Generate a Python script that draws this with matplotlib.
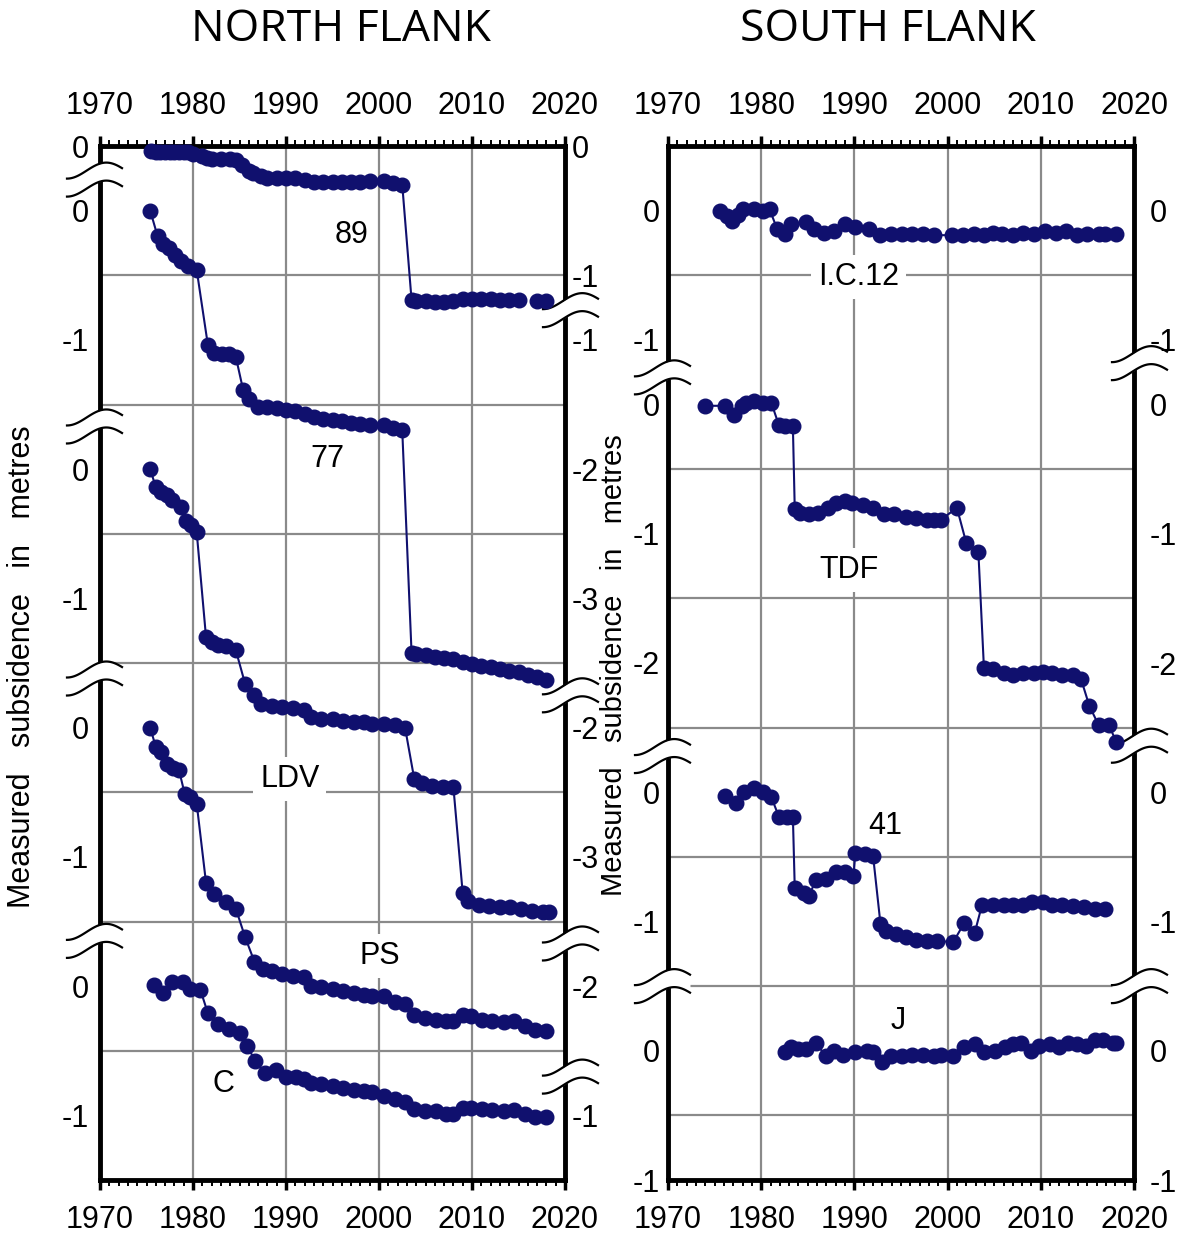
import numpy as np
import matplotlib.pyplot as plt

NAVY = '#10106e'
GRID = '#8a8a8a'
FIG_W, FIG_H, DPI = 11.77, 12.35, 100

# ---- north flank (local subsidence of each benchmark, metres) ----
yrs_89 = [1975.5, 1976, 1976.5, 1977, 1977.5, 1978, 1978.5, 1979, 1979.5, 1980, 1981, 1981.5,
          1982, 1983, 1984, 1984.6, 1985.3, 1986, 1986.5, 1987.3, 1988, 1989, 1990, 1991, 1992,
          1993, 1994, 1995, 1996, 1997, 1998, 1999, 2000.5, 2001.5, 2002.5, 2003.5, 2004, 2005,
          2006, 2007, 2008, 2009, 2010, 2011, 2012, 2013, 2014, 2015, 2016, 2017, 2018]
val_89 = [-0.04, -0.05, -0.05, -0.05, -0.05, -0.05, -0.05, -0.05, -0.05, -0.06, -0.08, -0.09,
          -0.10, -0.10, -0.10, -0.11, -0.15, -0.19, -0.21, -0.23, -0.25, -0.25, -0.25, -0.25, -0.26,
          -0.28, -0.28, -0.28, -0.28, -0.28, -0.28, -0.27, -0.27, -0.29, -0.30, -1.19, -1.20, -1.20,
          -1.21, -1.21, -1.20, -1.18, -1.18, -1.18, -1.18, -1.19, -1.19, -1.19, np.nan, -1.20, -1.20]

yrs_77 = [1975.4, 1976.2, 1976.8, 1977.4, 1978.1, 1978.7, 1979.5, 1980.4, 1981.6, 1982.3, 1983.1,
          1983.9, 1984.6, 1985.4, 1986, 1987, 1988, 1989, 1990, 1991, 1992, 1993, 1994, 1995, 1996,
          1997, 1998, 1999, 2000.5, 2001.5, 2002.5, 2003.5, 2004, 2005, 2006, 2007, 2008, 2009,
          2010, 2011, 2012, 2013, 2014, 2015, 2016, 2017, 2018]
val_77 = [0.0, -0.20, -0.26, -0.29, -0.34, -0.39, -0.43, -0.46, -1.04, -1.10, -1.11,
          -1.11, -1.13, -1.39, -1.46, -1.52, -1.52, -1.53, -1.54, -1.55, -1.57, -1.60, -1.61, -1.62,
          -1.63, -1.64, -1.65, -1.66, -1.66, -1.68, -1.70, -3.42, -3.43, -3.44, -3.45, -3.46, -3.47,
          -3.49, -3.51, -3.52, -3.53, -3.55, -3.56, -3.57, -3.59, -3.61, -3.63]

yrs_ldv = [1975.4, 1976.0, 1976.6, 1977.2, 1977.7, 1978.7, 1979.3, 1979.8, 1980.4, 1981.4, 1982.0,
           1982.7, 1983.5, 1984.6, 1985.6, 1986.6, 1987.3, 1988.5, 1989.6, 1990.8, 1991.9, 1992.7,
           1993.8, 1995.0, 1996.1, 1997.3, 1998.4, 1999.2, 2000.5, 2001.7, 2002.8, 2003.8, 2004.6,
           2005.7, 2006.9, 2008.0, 2009.0, 2009.6, 2010.7, 2011.8, 2013.0, 2014.1, 2015.3, 2016.4,
           2017.6, 2018.3]
val_ldv = [0.0, -0.14, -0.18, -0.20, -0.24, -0.29, -0.40, -0.43, -0.49, -1.30, -1.34,
           -1.36, -1.37, -1.40, -1.66, -1.75, -1.82, -1.83, -1.84, -1.85, -1.86, -1.92,
           -1.93, -1.93, -1.95, -1.96, -1.96, -1.97, -1.97, -1.98, -2.00, -2.40, -2.43,
           -2.45, -2.46, -2.46, -3.28, -3.34, -3.37, -3.38, -3.39, -3.39, -3.40, -3.42,
           -3.43, -3.43]

yrs_ps = [1975.4, 1976.0, 1976.6, 1977.2, 1977.9, 1978.5, 1979.1, 1979.7, 1980.4, 1981.4, 1982.3,
          1983.5, 1984.6, 1985.6, 1986.6, 1987.5, 1988.5, 1989.6, 1990.8, 1991.9, 1992.7, 1993.8,
          1995.0, 1996.1, 1997.3, 1998.4, 1999.2, 2000.5, 2001.7, 2002.8, 2003.8, 2004.9, 2006.1,
          2007.2, 2008.0, 2009.0, 2009.9, 2011.1, 2012.2, 2013.4, 2014.5, 2015.7, 2016.8, 2018.0]
val_ps = [0.0, -0.15, -0.19, -0.28, -0.31, -0.33, -0.51, -0.54, -0.59, -1.20, -1.29,
          -1.35, -1.40, -1.62, -1.81, -1.87, -1.88, -1.91, -1.92, -1.93, -2.00, -2.01,
          -2.02, -2.04, -2.05, -2.07, -2.08, -2.08, -2.12, -2.14, -2.22, -2.25, -2.26,
          -2.27, -2.27, -2.22, -2.23, -2.26, -2.27, -2.28, -2.27, -2.31, -2.34, -2.35]

yrs_c = [1975.8, 1976.8, 1977.7, 1978.9, 1979.7, 1980.8, 1981.6, 1982.7, 1983.9, 1985.0, 1985.8,
         1986.7, 1987.7, 1988.9, 1990.0, 1991.1, 1991.9, 1992.7, 1993.8, 1995.0, 1996.1, 1997.3,
         1998.4, 1999.2, 2000.5, 2001.7, 2002.8, 2003.8, 2004.9, 2006.1, 2007.2, 2008.0, 2009.0,
         2009.9, 2011.1, 2012.2, 2013.4, 2014.5, 2015.7, 2016.8, 2018.0]
val_c = [0.01, -0.05, 0.03, 0.03, -0.02, -0.03, -0.21, -0.29, -0.33, -0.36, -0.46,
         -0.58, -0.67, -0.65, -0.70, -0.70, -0.72, -0.75, -0.76, -0.77, -0.79, -0.80,
         -0.81, -0.82, -0.85, -0.87, -0.90, -0.95, -0.97, -0.97, -0.99, -0.99, -0.94,
         -0.94, -0.95, -0.96, -0.97, -0.96, -0.99, -1.01, -1.01]

# ---- south flank ----
yrs_ic12 = [1975.6, 1976.3, 1976.9, 1977.5, 1978.0, 1979.2, 1980.2, 1980.9, 1981.7, 1982.6, 1983.2,
            1984.8, 1985.7, 1986.7, 1987.8, 1989.0, 1990.1, 1991.6, 1992.8, 1993.9, 1995.1, 1996.2,
            1997.4, 1998.5, 2000.5, 2001.6, 2002.8, 2003.9, 2004.9, 2005.8, 2007.0, 2008.1, 2009.3,
            2010.4, 2011.6, 2012.7, 2013.9, 2015.0, 2016.2, 2016.9, 2018.1]
val_ic12 = [0.0, -0.04, -0.08, -0.03, 0.01, 0.01, 0.0, 0.01, -0.14, -0.18, -0.10,
            -0.09, -0.14, -0.17, -0.155, -0.10, -0.13, -0.14, -0.19, -0.18, -0.18, -0.18,
            -0.18, -0.19, -0.19, -0.19, -0.18, -0.19, -0.17, -0.18, -0.19, -0.17, -0.18,
            -0.155, -0.17, -0.155, -0.19, -0.18, -0.18, -0.18, -0.18]

yrs_tdf = [1974.0, 1976.1, 1977.1, 1977.9, 1978.4, 1979.2, 1980.2, 1981.1, 1981.9, 1982.6, 1983.4,
           1983.6, 1984.2, 1985.1, 1986.1, 1987.2, 1988.0, 1989.0, 1989.7, 1990.9, 1992.0, 1993.2,
           1994.3, 1995.5, 1996.6, 1997.8, 1998.5, 1999.3, 2001.0, 2002.0, 2003.3, 2003.9, 2004.9,
           2006.0, 2007.0, 2008.1, 2009.3, 2010.2, 2011.2, 2012.3, 2013.5, 2014.3, 2015.2, 2016.2,
           2017.3, 2018.1]
val_tdf = [-0.01, -0.01, -0.08, -0.01, 0.01, 0.03, 0.01, 0.01, -0.16, -0.17, -0.17,
           -0.81, -0.84, -0.85, -0.84, -0.80, -0.76, -0.75, -0.76, -0.78, -0.80, -0.85,
           -0.85, -0.87, -0.88, -0.89, -0.89, -0.89, -0.80, -1.07, -1.14, -2.04, -2.05,
           -2.08, -2.09, -2.08, -2.08, -2.07, -2.08, -2.09, -2.09, -2.12, -2.33, -2.48,
           -2.48, -2.61]

yrs_41 = [1976.1, 1977.3, 1978.2, 1979.2, 1980.2, 1981.1, 1981.9, 1982.8, 1983.4, 1983.6, 1984.6,
          1985.1, 1985.9, 1987.0, 1988.0, 1989.0, 1989.9, 1990.1, 1991.1, 1992.0, 1992.8, 1993.4,
          1994.5, 1995.5, 1996.6, 1997.8, 1998.9, 2000.6, 2001.8, 2002.9, 2003.7, 2004.9, 2006.0,
          2007.0, 2008.1, 2009.1, 2010.2, 2011.2, 2012.3, 2013.5, 2014.6, 2015.8, 2016.9]
val_41 = [-0.03, -0.08, 0.0, 0.03, 0.0, -0.04, -0.19, -0.19, -0.19, -0.74, -0.78,
          -0.80, -0.68, -0.67, -0.62, -0.62, -0.65, -0.47, -0.48, -0.49, -1.02, -1.07,
          -1.10, -1.12, -1.14, -1.15, -1.15, -1.16, -1.01, -1.09, -0.87, -0.87, -0.87,
          -0.87, -0.87, -0.85, -0.85, -0.87, -0.87, -0.88, -0.89, -0.90, -0.90]

yrs_j = [1982.5, 1983.2, 1984.0, 1984.8, 1985.9, 1986.9, 1987.8, 1988.8, 1990.1, 1991.3, 1992.0,
         1993.0, 1993.9, 1995.1, 1996.2, 1997.4, 1998.5, 1999.3, 2000.6, 2001.8, 2002.9, 2003.9,
         2005.1, 2006.2, 2007.0, 2007.9, 2008.9, 2009.8, 2011.0, 2012.0, 2012.9, 2013.9, 2014.8,
         2015.8, 2016.7, 2017.7, 2018.1]
val_j = [-0.01, 0.03, 0.01, 0.01, 0.06, -0.04, 0.0, -0.03, -0.01, 0.0, -0.01,
         -0.09, -0.04, -0.04, -0.03, -0.03, -0.04, -0.03, -0.04, 0.03, 0.05, -0.01,
         0.0, 0.03, 0.05, 0.06, 0.0, 0.04, 0.05, 0.03, 0.06, 0.05, 0.04,
         0.08, 0.08, 0.06, 0.06]

# tick labels of the stacked scales
north_left_pos = [0.5, 0, -1, -2, -3, -4, -5, -6, -7]
north_left_lab = ['0', '0', '-1', '0', '-1', '0', '-1', '0', '-1']
north_right_pos = [0.5, -0.5, -1, -2, -3, -4, -5, -6, -7]
north_right_lab = ['0', '-1', '-1', '-2', '-3', '-2', '-3', '-2', '-1']
south_pos = [0, -1, -1.5, -2.5, -3.5, -4.5, -5.5, -6.5, -7.5]
south_lab = ['0', '-1', '0', '-1', '-2', '0', '-1', '0', '-1']

plt.rcParams['font.family'] = ['Liberation Sans', 'DejaVu Sans']

fig = plt.figure(figsize=(FIG_W, FIG_H), dpi=DPI)
bottom = 1 - 1180 / 1235
height = 1034 / 1235
ax_n = fig.add_axes([100 / 1177, bottom, 465 / 1177, height])
ax_s = fig.add_axes([668 / 1177, bottom, 466 / 1177, height])


def setup(ax, lpos, llab, rpos, rlab, lpad, rpad):
    ax.set_xlim(1970, 2020)
    ax.set_ylim(-7.5, 0.5)
    ax.set_xticks(np.arange(1970, 2021, 10))
    ax.set_xticks(np.arange(1970, 2021, 1), minor=True)
    ax.set_yticks(lpos, llab)
    ax.set_yticks(np.arange(-7.0, 0.5, 0.5), minor=True)
    ax.set_axisbelow(True)
    ax.grid(axis='x', which='major', color=GRID, lw=1.6)
    ax.grid(axis='y', which='minor', color=GRID, lw=1.6)
    ax.tick_params(axis='x', which='both', direction='out', top=True, bottom=True,
                   labeltop=True, labelbottom=True, labelsize=22, pad=11)
    ax.tick_params(axis='x', which='major', length=7, width=2.5)
    ax.tick_params(axis='x', which='minor', length=4, width=1.4)
    ax.tick_params(axis='y', which='both', length=0, labelsize=22, pad=lpad)
    for sp in ax.spines.values():
        sp.set_linewidth(3.5)
    axr = ax.twinx()
    axr.set_ylim(-7.5, 0.5)
    axr.set_yticks(rpos, rlab)
    axr.tick_params(axis='y', length=0, labelsize=22, pad=rpad)
    for sp in axr.spines.values():
        sp.set_visible(False)


def draw_break(ax, side, yc):
    pos = ax.get_position()
    yr_per_px = 50 / (pos.width * FIG_W * DPI)
    m_per_px = 8 / (pos.height * FIG_H * DPI)
    u = np.linspace(0, 1, 60)
    x0 = -33 if side == 'left' else -22
    spine = 1970 if side == 'left' else 2020
    xs = spine + (x0 + 55 * u) * yr_per_px
    wave = 8 * np.sin(np.pi * (1.4 * u - 0.5))
    up = yc + (wave + 9) * m_per_px
    lo = yc + (wave - 9) * m_per_px
    ax.fill_between(xs, lo, up, color='white', lw=0, zorder=4, clip_on=False)
    ax.plot(xs, up, color='black', lw=1.6, zorder=4.5, clip_on=False)
    ax.plot(xs, lo, color='black', lw=1.6, zorder=4.5, clip_on=False)


def draw_series(ax, yrs, vals, offset):
    ax.plot(yrs, np.array(vals) + offset, '-o', color=NAVY, lw=1.5, ms=10.5,
            zorder=5, clip_on=False)


def label(ax, x, y, s):
    ax.text(x, y, s, ha='center', va='center', fontsize=22, zorder=3,
            bbox=dict(facecolor='white', edgecolor='none', pad=5))


setup(ax_n, north_left_pos, north_left_lab, north_right_pos, north_right_lab, 8, 5)
setup(ax_s, south_pos, south_lab, south_pos, south_lab, 6, 11)

# each benchmark is shifted to its own zero line
draw_series(ax_n, yrs_89, val_89, 0.5)
draw_series(ax_n, yrs_77, val_77, 0.0)
draw_series(ax_n, yrs_ldv, val_ldv, -2.0)
draw_series(ax_n, yrs_ps, val_ps, -4.0)
draw_series(ax_n, yrs_c, val_c, -6.0)

draw_series(ax_s, yrs_ic12, val_ic12, 0.0)
draw_series(ax_s, yrs_tdf, val_tdf, -1.5)
draw_series(ax_s, yrs_41, val_41, -4.5)
draw_series(ax_s, yrs_j, val_j, -6.5)

label(ax_n, 1997.1, -0.19, '89')
label(ax_n, 1994.5, -1.92, '77')
label(ax_n, 1990.4, -4.40, 'LDV')
label(ax_n, 2000.1, -5.77, 'PS')
label(ax_n, 1983.3, -6.76, 'C')
label(ax_s, 1990.4, -0.51, 'I.C.12')
label(ax_s, 1989.4, -2.78, 'TDF')
label(ax_s, 1993.3, -4.76, '41')
label(ax_s, 1994.7, -6.27, 'J')

for yc in [0.24, -1.67, -3.62, -5.65]:
    draw_break(ax_n, 'left', yc)
for yc in [-0.77, -3.75, -5.67, -6.70]:
    draw_break(ax_n, 'right', yc)
for yc in [-1.29, -4.22, -6.0]:
    draw_break(ax_s, 'left', yc)
for yc in [-1.18, -4.14, -6.0]:
    draw_break(ax_s, 'right', yc)

fig.text(0.29, 0.976, 'NORTH FLANK', ha='center', va='center', fontsize=32, family='Open Sans')
fig.text(0.754, 0.976, 'SOUTH FLANK', ha='center', va='center', fontsize=32, family='Open Sans')
fig.text(0.0187, 0.46, 'Measured   subsidence   in   metres', rotation=90,
         ha='center', va='center', fontsize=22)
fig.text(0.5215, 0.4615, 'Measured   subsidence   in   metres', rotation=90,
         ha='center', va='center', fontsize=21)

fig.savefig('out.png', dpi=DPI)
